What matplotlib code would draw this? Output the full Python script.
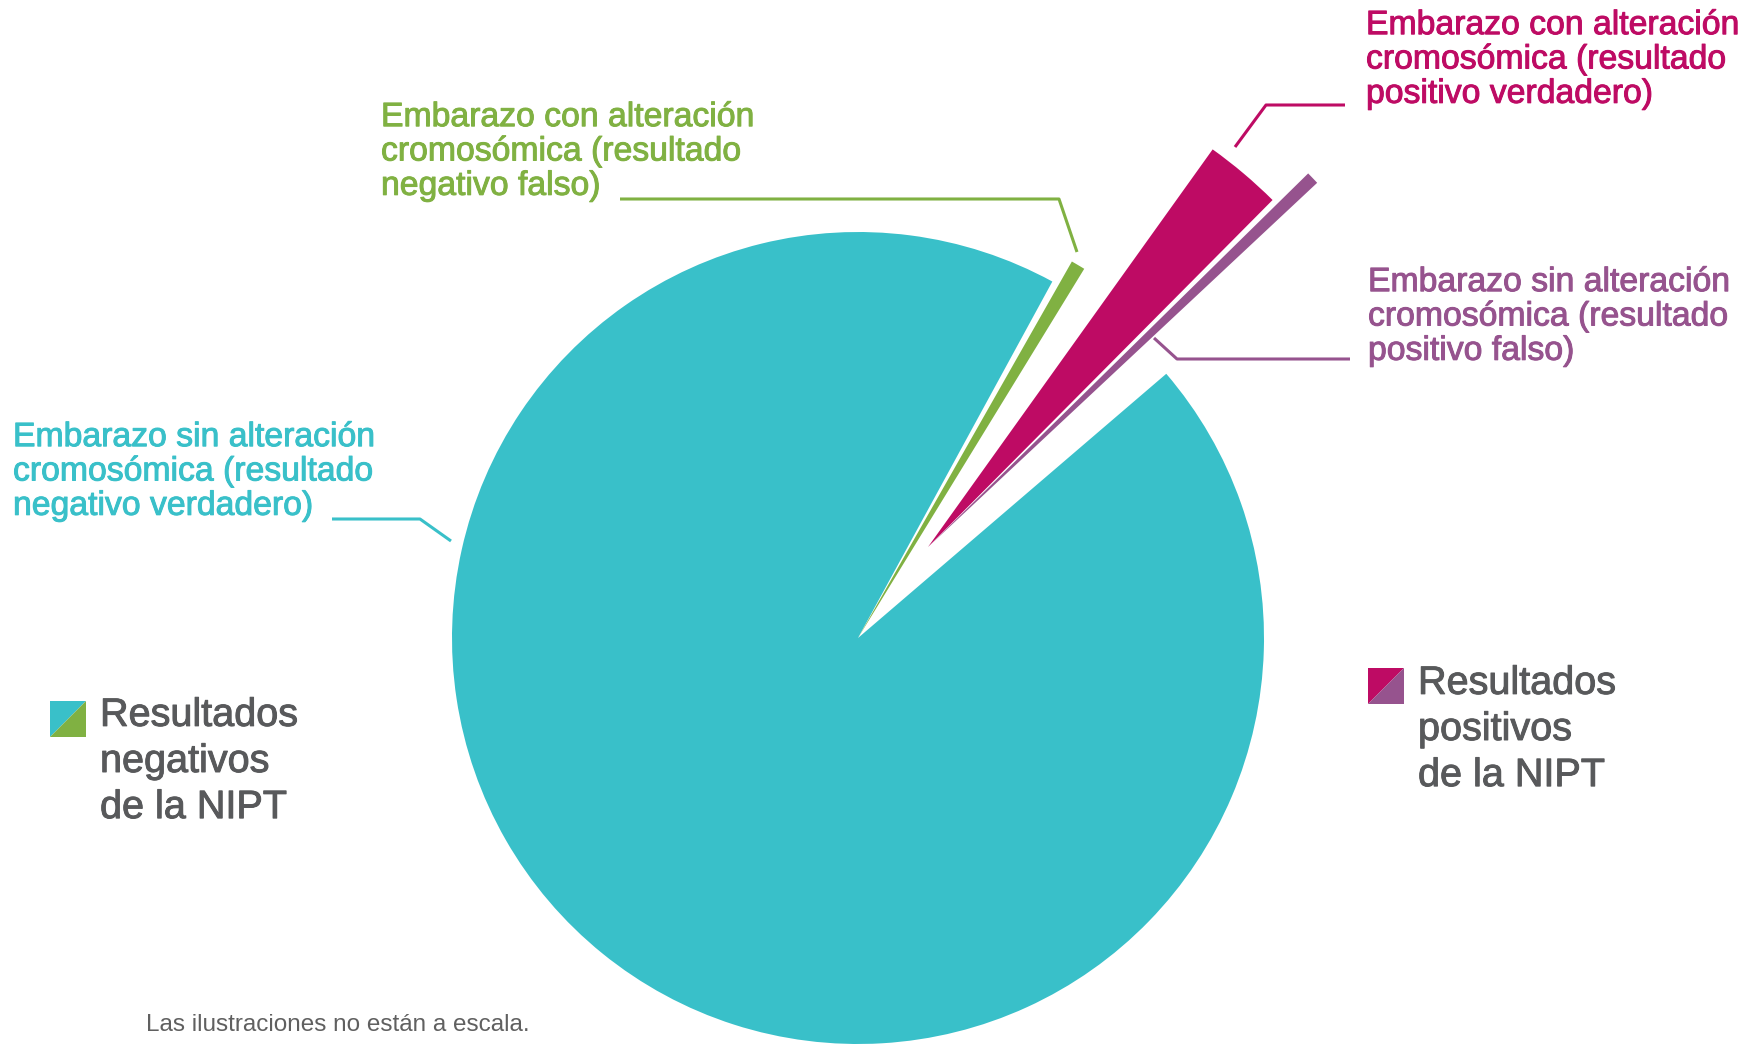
import matplotlib.pyplot as plt
import matplotlib.patheffects as pe
from matplotlib.patches import Polygon

# slices as drawn (the illustration is not to scale), degrees of the circle
labels = ['Embarazo sin alteración\ncromosómica (resultado\nnegativo verdadero)',
          'Embarazo sin alteración\ncromosómica (resultado\npositivo falso)',
          'Embarazo con alteración\ncromosómica (resultado\npositivo verdadero)',
          'Embarazo con alteración\ncromosómica (resultado\nnegativo falso)']
sizes = [339.2, 1.4, 9.2, 1.9]
colors = ['#39c0c9', '#96538e', '#be0b64', '#80b142']

legend_labels = ['Resultados\nnegativos\nde la NIPT', 'Resultados\npositivos\nde la NIPT']
legend_colors = [('#39c0c9', '#80b142'), ('#be0b64', '#96538e')]
note = 'Las ilustraciones no están a escala.'

# style
gaps = [2.5, 0.7, 4.1, 1.0]          # empty angle after each slice
radii = [406, 533, 489, 433]         # px
W, H = 1761, 1044
center = (858, H - 638)
shift = (70, 91)                     # positive results pulled out
text_grey = '#58595b'
plt.rcParams['font.family'] = ['Liberation Sans', 'DejaVu Sans']

fig = plt.figure(figsize=(W / 100, H / 100), dpi=100)
ax = fig.add_axes([0, 0, 1, 1])

vals, cols = [], []
for s, g, c in zip(sizes, gaps, colors):
    vals += [s, g]
    cols += [c, 'none']

wedges, _ = ax.pie(vals, colors=cols, startangle=61.4, counterclock=True,
                   radius=1, center=center,
                   wedgeprops=dict(linewidth=0))
for i, w in enumerate(wedges[::2]):
    w.set_radius(radii[i])
    if i in (1, 2):
        w.set_center((center[0] + shift[0], center[1] + shift[1]))

ax.set_xlim(0, W)
ax.set_ylim(0, H)
ax.set_aspect('equal')
ax.axis('off')

def y(v):
    return H - v

def medium(c):
    # thicken the regular face a little, like a medium weight
    return [pe.withStroke(linewidth=0.7, foreground=c)]

# colored labels with leader lines
lab_pos = [(13, 472), (1368, 317), (1366, 60), (381, 152)]
leaders = [[(332, 519), (420, 519), (451, 541)],
           [(1350, 359), (1177, 359), (1154, 338)],
           [(1345, 105), (1266, 105), (1235, 147)],
           [(620, 199), (1059, 199), (1077, 252)]]
for lab, (tx, ty), pts, c in zip(labels, lab_pos, leaders, colors):
    ax.text(tx, y(ty), lab, color=c, fontsize=24.3,
            ha='left', va='center', linespacing=1.14,
            path_effects=medium(c))
    ax.plot([p[0] for p in pts], [y(p[1]) for p in pts], color=c, lw=2.2,
            solid_capstyle='butt')

# legend blocks with split squares
sq = [(50, 701), (1368, 668)]
leg_txt = [(100, 761), (1418, 729)]
for (sx, sy), (c1, c2), lab, (tx, ty) in zip(sq, legend_colors, legend_labels, leg_txt):
    s = 36
    ax.add_patch(Polygon([(sx, y(sy)), (sx + s, y(sy)), (sx, y(sy + s))],
                         closed=True, color=c1, lw=0))
    ax.add_patch(Polygon([(sx + s, y(sy)), (sx + s, y(sy + s)), (sx, y(sy + s))],
                         closed=True, color=c2, lw=0))
    ax.text(tx, y(ty), lab, color=text_grey, fontsize=28.5, ha='left',
            va='center', linespacing=1.27, path_effects=medium(text_grey))

ax.text(146, y(1025), note, color='#606060', fontsize=17.5, ha='left', va='center')

fig.savefig('out.png', dpi=100)
